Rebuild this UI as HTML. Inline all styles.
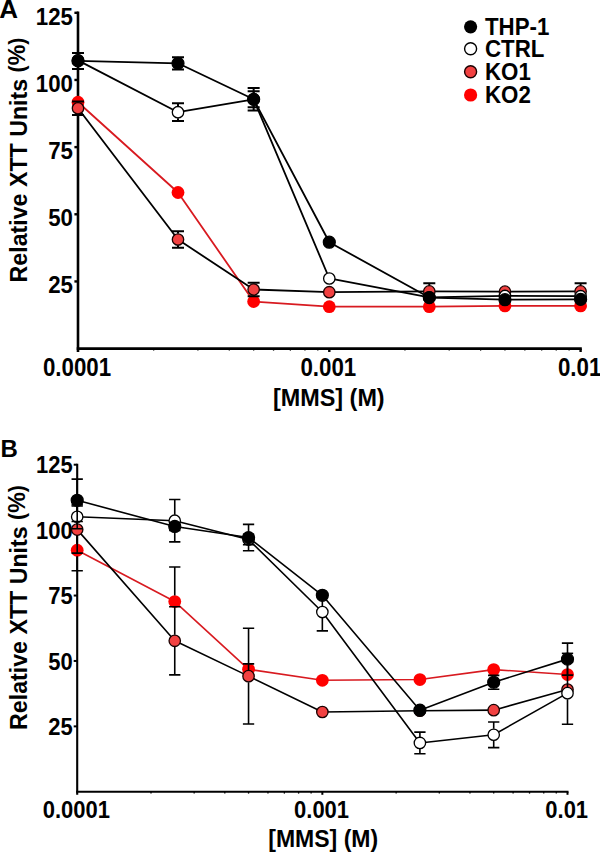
<!DOCTYPE html>
<html><head><meta charset="utf-8"><style>
html,body{margin:0;padding:0;background:#fff;}
body{width:600px;height:853px;overflow:hidden;}
svg{display:block;}
text{font-family:"Liberation Sans", sans-serif;font-weight:bold;fill:#000;}
</style></head><body>
<svg width="600" height="853" viewBox="0 0 600 853">
<rect width="600" height="853" fill="#fff"/>
<line x1="78.0" y1="11.600000000000001" x2="78.0" y2="352.0" stroke="#000" stroke-width="2.6"/>
<line x1="76.7" y1="348.6" x2="581.8" y2="348.6" stroke="#000" stroke-width="2.6"/>
<line x1="74.4" y1="281.44" x2="78.0" y2="281.44" stroke="#000" stroke-width="2.4"/>
<line x1="74.4" y1="214.28" x2="78.0" y2="214.28" stroke="#000" stroke-width="2.4"/>
<line x1="74.4" y1="147.12" x2="78.0" y2="147.12" stroke="#000" stroke-width="2.4"/>
<line x1="74.4" y1="79.96" x2="78.0" y2="79.96" stroke="#000" stroke-width="2.4"/>
<line x1="74.4" y1="12.80" x2="78.0" y2="12.80" stroke="#000" stroke-width="2.4"/>
<line x1="329.30" y1="348.6" x2="329.30" y2="352.0" stroke="#000" stroke-width="2.4"/>
<line x1="580.60" y1="348.6" x2="580.60" y2="352.0" stroke="#000" stroke-width="2.4"/>
<line x1="153.65" y1="348.6" x2="153.65" y2="350.6" stroke="#000" stroke-width="1.3"/>
<line x1="197.90" y1="348.6" x2="197.90" y2="350.6" stroke="#000" stroke-width="1.3"/>
<line x1="229.30" y1="348.6" x2="229.30" y2="350.6" stroke="#000" stroke-width="1.3"/>
<line x1="253.65" y1="348.6" x2="253.65" y2="350.6" stroke="#000" stroke-width="1.3"/>
<line x1="273.55" y1="348.6" x2="273.55" y2="350.6" stroke="#000" stroke-width="1.3"/>
<line x1="290.37" y1="348.6" x2="290.37" y2="350.6" stroke="#000" stroke-width="1.3"/>
<line x1="304.95" y1="348.6" x2="304.95" y2="350.6" stroke="#000" stroke-width="1.3"/>
<line x1="317.80" y1="348.6" x2="317.80" y2="350.6" stroke="#000" stroke-width="1.3"/>
<line x1="404.95" y1="348.6" x2="404.95" y2="350.6" stroke="#000" stroke-width="1.3"/>
<line x1="449.20" y1="348.6" x2="449.20" y2="350.6" stroke="#000" stroke-width="1.3"/>
<line x1="480.60" y1="348.6" x2="480.60" y2="350.6" stroke="#000" stroke-width="1.3"/>
<line x1="504.95" y1="348.6" x2="504.95" y2="350.6" stroke="#000" stroke-width="1.3"/>
<line x1="524.85" y1="348.6" x2="524.85" y2="350.6" stroke="#000" stroke-width="1.3"/>
<line x1="541.67" y1="348.6" x2="541.67" y2="350.6" stroke="#000" stroke-width="1.3"/>
<line x1="556.25" y1="348.6" x2="556.25" y2="350.6" stroke="#000" stroke-width="1.3"/>
<line x1="569.10" y1="348.6" x2="569.10" y2="350.6" stroke="#000" stroke-width="1.3"/>
<text transform="translate(73.00,293.34) scale(1,1.07)" text-anchor="end" font-size="22.3">25</text>
<text transform="translate(73.00,226.18) scale(1,1.07)" text-anchor="end" font-size="22.3">50</text>
<text transform="translate(73.00,159.02) scale(1,1.07)" text-anchor="end" font-size="22.3">75</text>
<text transform="translate(73.00,91.86) scale(1,1.07)" text-anchor="end" font-size="22.3">100</text>
<text transform="translate(73.00,24.70) scale(1,1.07)" text-anchor="end" font-size="22.3">125</text>
<text transform="translate(77.00,376.20) scale(1,1.13)" text-anchor="middle" font-size="22.3">0.0001</text>
<text transform="translate(328.30,376.20) scale(1,1.13)" text-anchor="middle" font-size="22.3">0.001</text>
<text transform="translate(579.60,376.20) scale(1,1.13)" text-anchor="middle" font-size="22.3">0.01</text>
<text transform="translate(328.80,405.60)" text-anchor="middle" font-size="23.4">[MMS] (M)</text>
<text transform="translate(27.20,160.00) rotate(-90)" text-anchor="middle" font-size="23.2">Relative XTT Units <tspan dy="-3.2" font-size="21.3">(</tspan><tspan dy="0.5">%</tspan><tspan dy="-0.5" font-size="21.3">)</tspan></text>
<text transform="translate(-0.80,17.60)" font-size="26">A</text>
<path d="M78.00,102.26 L178.00,192.52 L253.65,301.59 L329.30,306.69 L429.30,306.69 L504.95,305.89 L580.60,305.89" fill="none" stroke="#d81a20" stroke-width="1.8" stroke-linejoin="round"/>
<circle cx="78.00" cy="102.26" r="6.4" fill="#ff0000"/>
<circle cx="178.00" cy="192.52" r="6.4" fill="#ff0000"/>
<circle cx="253.65" cy="301.59" r="6.4" fill="#ff0000"/>
<circle cx="329.30" cy="306.69" r="6.4" fill="#ff0000"/>
<circle cx="429.30" cy="306.69" r="6.4" fill="#ff0000"/>
<circle cx="504.95" cy="305.89" r="6.4" fill="#ff0000"/>
<circle cx="580.60" cy="305.89" r="6.4" fill="#ff0000"/>
<path d="M78.00,108.25 L178.00,239.53 L253.65,289.50 L329.30,292.19 L429.30,291.38 L504.95,291.65 L580.60,291.38" fill="none" stroke="#000" stroke-width="1.8" stroke-linejoin="round"/>
<circle cx="78.00" cy="108.25" r="5.7" fill="#f24141" stroke="#1a0000" stroke-width="1.3"/>
<path d="M78.00,102.25 V101.53 M72.00,101.53 H84.00 M78.00,114.25 V114.96 M72.00,114.96 H84.00" stroke="#000" stroke-width="2.0" fill="none"/>
<circle cx="178.00" cy="239.53" r="5.7" fill="#f24141" stroke="#1a0000" stroke-width="1.3"/>
<path d="M178.00,233.53 V231.20 M172.00,231.20 H184.00 M178.00,245.53 V247.86 M172.00,247.86 H184.00" stroke="#000" stroke-width="2.0" fill="none"/>
<circle cx="253.65" cy="289.50" r="5.7" fill="#f24141" stroke="#1a0000" stroke-width="1.3"/>
<path d="M253.65,283.50 V282.78 M247.65,282.78 H259.65 M253.65,295.50 V296.22 M247.65,296.22 H259.65" stroke="#000" stroke-width="2.0" fill="none"/>
<circle cx="329.30" cy="292.19" r="5.7" fill="#f24141" stroke="#1a0000" stroke-width="1.3"/>
<circle cx="429.30" cy="291.38" r="5.7" fill="#f24141" stroke="#1a0000" stroke-width="1.3"/>
<path d="M429.30,285.38 V283.32 M423.30,283.32 H435.30 M429.30,297.38 V299.44 M423.30,299.44 H435.30" stroke="#000" stroke-width="2.0" fill="none"/>
<circle cx="504.95" cy="291.65" r="5.7" fill="#f24141" stroke="#1a0000" stroke-width="1.3"/>
<circle cx="580.60" cy="291.38" r="5.7" fill="#f24141" stroke="#1a0000" stroke-width="1.3"/>
<path d="M580.60,285.38 V283.32 M574.60,283.32 H586.60 M580.60,297.38 V299.44 M574.60,299.44 H586.60" stroke="#000" stroke-width="2.0" fill="none"/>
<path d="M78.00,60.35 L178.00,112.20 L253.65,99.30 L329.30,278.48 L429.30,297.29 L504.95,295.95 L580.60,296.22" fill="none" stroke="#000" stroke-width="1.8" stroke-linejoin="round"/>
<circle cx="78.00" cy="60.35" r="5.7" fill="#fff" stroke="#000" stroke-width="1.3"/>
<circle cx="178.00" cy="112.20" r="5.7" fill="#fff" stroke="#000" stroke-width="1.3"/>
<path d="M178.00,106.20 V103.33 M172.00,103.33 H184.00 M178.00,118.20 V121.06 M172.00,121.06 H184.00" stroke="#000" stroke-width="2.0" fill="none"/>
<circle cx="253.65" cy="99.30" r="5.7" fill="#fff" stroke="#000" stroke-width="1.3"/>
<path d="M253.65,93.30 V88.02 M247.65,88.02 H259.65 M253.65,105.30 V110.58 M247.65,110.58 H259.65" stroke="#000" stroke-width="2.0" fill="none"/>
<circle cx="329.30" cy="278.48" r="5.7" fill="#fff" stroke="#000" stroke-width="1.3"/>
<circle cx="429.30" cy="297.29" r="5.7" fill="#fff" stroke="#000" stroke-width="1.3"/>
<circle cx="504.95" cy="295.95" r="5.7" fill="#fff" stroke="#000" stroke-width="1.3"/>
<circle cx="580.60" cy="296.22" r="5.7" fill="#fff" stroke="#000" stroke-width="1.3"/>
<path d="M78.00,60.89 L178.00,63.30 L253.65,99.30 L329.30,242.22 L429.30,297.56 L504.95,299.71 L580.60,299.44" fill="none" stroke="#000" stroke-width="1.8" stroke-linejoin="round"/>
<circle cx="78.00" cy="60.89" r="6.0" fill="#000" stroke="#000" stroke-width="1.2"/>
<path d="M78.00,54.89 V52.88 M72.00,52.88 H84.00 M78.00,66.89 V68.89 M72.00,68.89 H84.00" stroke="#000" stroke-width="2.0" fill="none"/>
<circle cx="178.00" cy="63.30" r="6.0" fill="#000" stroke="#000" stroke-width="1.2"/>
<path d="M178.00,57.30 V57.13 M172.00,57.13 H184.00 M178.00,69.30 V69.48 M172.00,69.48 H184.00" stroke="#000" stroke-width="2.0" fill="none"/>
<circle cx="253.65" cy="99.30" r="6.0" fill="#000" stroke="#000" stroke-width="1.2"/>
<path d="M253.65,93.30 V91.24 M247.65,91.24 H259.65 M253.65,105.30 V107.36 M247.65,107.36 H259.65" stroke="#000" stroke-width="2.0" fill="none"/>
<circle cx="329.30" cy="242.22" r="6.0" fill="#000" stroke="#000" stroke-width="1.2"/>
<circle cx="429.30" cy="297.56" r="6.0" fill="#000" stroke="#000" stroke-width="1.2"/>
<circle cx="504.95" cy="299.71" r="6.0" fill="#000" stroke="#000" stroke-width="1.2"/>
<circle cx="580.60" cy="299.44" r="6.0" fill="#000" stroke="#000" stroke-width="1.2"/>
<line x1="77.2" y1="463.7" x2="77.2" y2="794.8" stroke="#000" stroke-width="2.1"/>
<line x1="76.15" y1="791.8" x2="568.5" y2="791.8" stroke="#000" stroke-width="2.1"/>
<line x1="73.7" y1="726.38" x2="77.2" y2="726.38" stroke="#000" stroke-width="2.0"/>
<line x1="73.7" y1="660.96" x2="77.2" y2="660.96" stroke="#000" stroke-width="2.0"/>
<line x1="73.7" y1="595.54" x2="77.2" y2="595.54" stroke="#000" stroke-width="2.0"/>
<line x1="73.7" y1="530.12" x2="77.2" y2="530.12" stroke="#000" stroke-width="2.0"/>
<line x1="73.7" y1="464.70" x2="77.2" y2="464.70" stroke="#000" stroke-width="2.0"/>
<line x1="322.35" y1="791.8" x2="322.35" y2="794.8" stroke="#000" stroke-width="2.0"/>
<line x1="567.50" y1="791.8" x2="567.50" y2="794.8" stroke="#000" stroke-width="2.0"/>
<line x1="151.00" y1="791.8" x2="151.00" y2="793.5999999999999" stroke="#000" stroke-width="1.3"/>
<line x1="194.17" y1="791.8" x2="194.17" y2="793.5999999999999" stroke="#000" stroke-width="1.3"/>
<line x1="224.80" y1="791.8" x2="224.80" y2="793.5999999999999" stroke="#000" stroke-width="1.3"/>
<line x1="248.55" y1="791.8" x2="248.55" y2="793.5999999999999" stroke="#000" stroke-width="1.3"/>
<line x1="267.96" y1="791.8" x2="267.96" y2="793.5999999999999" stroke="#000" stroke-width="1.3"/>
<line x1="284.38" y1="791.8" x2="284.38" y2="793.5999999999999" stroke="#000" stroke-width="1.3"/>
<line x1="298.59" y1="791.8" x2="298.59" y2="793.5999999999999" stroke="#000" stroke-width="1.3"/>
<line x1="311.13" y1="791.8" x2="311.13" y2="793.5999999999999" stroke="#000" stroke-width="1.3"/>
<line x1="396.15" y1="791.8" x2="396.15" y2="793.5999999999999" stroke="#000" stroke-width="1.3"/>
<line x1="439.32" y1="791.8" x2="439.32" y2="793.5999999999999" stroke="#000" stroke-width="1.3"/>
<line x1="469.95" y1="791.8" x2="469.95" y2="793.5999999999999" stroke="#000" stroke-width="1.3"/>
<line x1="493.70" y1="791.8" x2="493.70" y2="793.5999999999999" stroke="#000" stroke-width="1.3"/>
<line x1="513.11" y1="791.8" x2="513.11" y2="793.5999999999999" stroke="#000" stroke-width="1.3"/>
<line x1="529.53" y1="791.8" x2="529.53" y2="793.5999999999999" stroke="#000" stroke-width="1.3"/>
<line x1="543.74" y1="791.8" x2="543.74" y2="793.5999999999999" stroke="#000" stroke-width="1.3"/>
<line x1="556.28" y1="791.8" x2="556.28" y2="793.5999999999999" stroke="#000" stroke-width="1.3"/>
<text transform="translate(72.70,735.08) scale(1,1.08)" text-anchor="end" font-size="22.0">25</text>
<text transform="translate(72.70,669.66) scale(1,1.08)" text-anchor="end" font-size="22.0">50</text>
<text transform="translate(72.70,604.24) scale(1,1.08)" text-anchor="end" font-size="22.0">75</text>
<text transform="translate(72.70,538.82) scale(1,1.08)" text-anchor="end" font-size="22.0">100</text>
<text transform="translate(72.70,473.40) scale(1,1.08)" text-anchor="end" font-size="22.0">125</text>
<text transform="translate(76.40,818.00) scale(1,1.08)" text-anchor="middle" font-size="22.0">0.0001</text>
<text transform="translate(321.55,818.00) scale(1,1.08)" text-anchor="middle" font-size="22.0">0.001</text>
<text transform="translate(566.70,818.00) scale(1,1.08)" text-anchor="middle" font-size="22.0">0.01</text>
<text transform="translate(323.20,846.60)" text-anchor="middle" font-size="23.0">[MMS] (M)</text>
<text transform="translate(27.20,607.50) rotate(-90)" text-anchor="middle" font-size="23.2">Relative XTT Units <tspan dy="-3.2" font-size="21.3">(</tspan><tspan dy="0.5">%</tspan><tspan dy="-0.5" font-size="21.3">)</tspan></text>
<text transform="translate(0.50,457.00)" font-size="24">B</text>
<path d="M77.20,550.27 L174.75,601.56 L248.55,669.33 L322.35,680.32 L419.90,679.54 L493.70,669.60 L567.50,674.57" fill="none" stroke="#d81a20" stroke-width="1.6" stroke-linejoin="round"/>
<circle cx="77.20" cy="550.27" r="6.4" fill="#ff0000"/>
<path d="M77.20,544.27 V529.86 M71.55,529.86 H82.85 M77.20,556.27 V570.68 M71.55,570.68 H82.85" stroke="#000" stroke-width="1.6" fill="none"/>
<circle cx="174.75" cy="601.56" r="6.4" fill="#ff0000"/>
<path d="M174.75,595.56 V567.02 M169.10,567.02 H180.40" stroke="#000" stroke-width="1.6" fill="none"/>
<circle cx="248.55" cy="669.33" r="6.4" fill="#ff0000"/>
<path d="M242.90,663.84 H254.20 M242.90,674.83 H254.20" stroke="#000" stroke-width="1.6" fill="none"/>
<circle cx="322.35" cy="680.32" r="6.4" fill="#ff0000"/>
<circle cx="419.90" cy="679.54" r="6.4" fill="#ff0000"/>
<circle cx="493.70" cy="669.60" r="6.4" fill="#ff0000"/>
<circle cx="567.50" cy="674.57" r="6.4" fill="#ff0000"/>
<path d="M77.20,529.60 L174.75,640.81 L248.55,676.14 L322.35,711.99 L419.90,710.68 L493.70,710.16 L567.50,689.48" fill="none" stroke="#000" stroke-width="1.6" stroke-linejoin="round"/>
<circle cx="77.20" cy="529.60" r="5.7" fill="#f24141" stroke="#1a0000" stroke-width="1.3"/>
<path d="M77.20,523.60 V506.05 M71.55,506.05 H82.85 M77.20,535.60 V553.15 M71.55,553.15 H82.85" stroke="#000" stroke-width="1.6" fill="none"/>
<circle cx="174.75" cy="640.81" r="5.7" fill="#f24141" stroke="#1a0000" stroke-width="1.3"/>
<path d="M174.75,634.81 V606.79 M169.10,606.79 H180.40 M174.75,646.81 V674.83 M169.10,674.83 H180.40" stroke="#000" stroke-width="1.6" fill="none"/>
<circle cx="248.55" cy="676.14" r="5.7" fill="#f24141" stroke="#1a0000" stroke-width="1.3"/>
<path d="M248.55,670.14 V628.25 M242.90,628.25 H254.20 M248.55,682.14 V724.02 M242.90,724.02 H254.20" stroke="#000" stroke-width="1.6" fill="none"/>
<circle cx="322.35" cy="711.99" r="5.7" fill="#f24141" stroke="#1a0000" stroke-width="1.3"/>
<circle cx="419.90" cy="710.68" r="5.7" fill="#f24141" stroke="#1a0000" stroke-width="1.3"/>
<circle cx="493.70" cy="710.16" r="5.7" fill="#f24141" stroke="#1a0000" stroke-width="1.3"/>
<circle cx="567.50" cy="689.48" r="5.7" fill="#f24141" stroke="#1a0000" stroke-width="1.3"/>
<path d="M77.20,516.77 L174.75,520.70 L248.55,539.54 L322.35,612.03 L419.90,742.94 L493.70,734.75 L567.50,693.15" fill="none" stroke="#000" stroke-width="1.6" stroke-linejoin="round"/>
<circle cx="77.20" cy="516.77" r="5.7" fill="#fff" stroke="#000" stroke-width="1.3"/>
<path d="M77.20,510.77 V504.74 M71.55,504.74 H82.85 M77.20,522.77 V528.81 M71.55,528.81 H82.85" stroke="#000" stroke-width="1.6" fill="none"/>
<circle cx="174.75" cy="520.70" r="5.7" fill="#fff" stroke="#000" stroke-width="1.3"/>
<path d="M174.75,514.70 V499.50 M169.10,499.50 H180.40 M174.75,526.70 V541.90 M169.10,541.90 H180.40" stroke="#000" stroke-width="1.6" fill="none"/>
<circle cx="248.55" cy="539.54" r="5.7" fill="#fff" stroke="#000" stroke-width="1.3"/>
<path d="M242.90,534.31 H254.20 M242.90,544.77 H254.20" stroke="#000" stroke-width="1.6" fill="none"/>
<circle cx="322.35" cy="612.03" r="5.7" fill="#fff" stroke="#000" stroke-width="1.3"/>
<path d="M322.35,606.03 V593.18 M316.70,593.18 H328.00 M322.35,618.03 V630.87 M316.70,630.87 H328.00" stroke="#000" stroke-width="1.6" fill="none"/>
<circle cx="419.90" cy="742.94" r="5.7" fill="#fff" stroke="#000" stroke-width="1.3"/>
<path d="M419.90,736.94 V732.08 M414.25,732.08 H425.55 M419.90,748.94 V753.80 M414.25,753.80 H425.55" stroke="#000" stroke-width="1.6" fill="none"/>
<circle cx="493.70" cy="734.75" r="5.7" fill="#fff" stroke="#000" stroke-width="1.3"/>
<path d="M493.70,728.75 V721.93 M488.05,721.93 H499.35 M493.70,740.75 V747.58 M488.05,747.58 H499.35" stroke="#000" stroke-width="1.6" fill="none"/>
<circle cx="567.50" cy="693.15" r="5.7" fill="#fff" stroke="#000" stroke-width="1.3"/>
<path d="M567.50,687.15 V662.01 M561.85,662.01 H573.15 M567.50,699.15 V724.29 M561.85,724.29 H573.15" stroke="#000" stroke-width="1.6" fill="none"/>
<path d="M77.20,500.29 L174.75,526.46 L248.55,537.58 L322.35,595.28 L419.90,710.16 L493.70,682.26 L567.50,659.13" fill="none" stroke="#000" stroke-width="1.6" stroke-linejoin="round"/>
<circle cx="77.20" cy="500.29" r="6.0" fill="#000" stroke="#000" stroke-width="1.2"/>
<path d="M77.20,494.29 V479.09 M71.55,479.09 H82.85 M77.20,506.29 V521.48 M71.55,521.48 H82.85" stroke="#000" stroke-width="1.6" fill="none"/>
<circle cx="174.75" cy="526.46" r="6.0" fill="#000" stroke="#000" stroke-width="1.2"/>
<path d="M169.10,522.53 H180.40 M169.10,530.38 H180.40" stroke="#000" stroke-width="1.6" fill="none"/>
<circle cx="248.55" cy="537.58" r="6.0" fill="#000" stroke="#000" stroke-width="1.2"/>
<path d="M248.55,531.58 V524.36 M242.90,524.36 H254.20 M248.55,543.58 V550.79 M242.90,550.79 H254.20" stroke="#000" stroke-width="1.6" fill="none"/>
<circle cx="322.35" cy="595.28" r="6.0" fill="#000" stroke="#000" stroke-width="1.2"/>
<circle cx="419.90" cy="710.16" r="6.0" fill="#000" stroke="#000" stroke-width="1.2"/>
<circle cx="493.70" cy="682.26" r="6.0" fill="#000" stroke="#000" stroke-width="1.2"/>
<path d="M493.70,676.26 V675.33 M488.05,675.33 H499.35 M493.70,688.26 V689.20 M488.05,689.20 H499.35" stroke="#000" stroke-width="1.6" fill="none"/>
<circle cx="567.50" cy="659.13" r="6.0" fill="#000" stroke="#000" stroke-width="1.2"/>
<path d="M567.50,653.13 V643.17 M561.85,643.17 H573.15 M567.50,665.13 V675.09 M561.85,675.09 H573.15" stroke="#000" stroke-width="1.6" fill="none"/>
<path d="M561.85,653.37 H573.15" stroke="#000" stroke-width="1.6"/>
<circle cx="470.6" cy="26.8" r="6.6" fill="#000"/>
<text transform="translate(485.00,35.20) scale(1,1.06)" font-size="22.3">THP-1</text>
<circle cx="470.6" cy="48.8" r="6.0" fill="#fff" stroke="#000" stroke-width="1.4"/>
<text transform="translate(485.00,57.20) scale(1,1.06)" font-size="22.3">CTRL</text>
<circle cx="470.6" cy="71.8" r="6.0" fill="#f24141" stroke="#1a0000" stroke-width="1.4"/>
<text transform="translate(485.00,80.20) scale(1,1.06)" font-size="22.3">KO1</text>
<circle cx="470.6" cy="95.0" r="6.6" fill="#ff0000"/>
<text transform="translate(485.00,103.40) scale(1,1.06)" font-size="22.3">KO2</text>
</svg>
</body></html>
